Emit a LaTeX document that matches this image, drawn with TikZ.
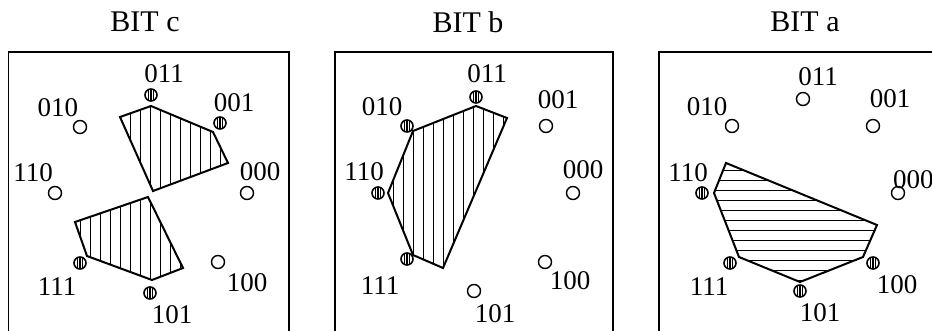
\documentclass[tikz,border=0pt]{standalone}
\usepackage{fontspec}
\setmainfont{Liberation Serif}
\usepackage{tikz}
\usetikzlibrary{positioning}

\begin{document}
\begin{tikzpicture}[
    x=1pt, y=-1pt,
    % Text
    title/.style={font=\fontsize{30}{33}\selectfont, inner sep=0pt},
    lbl/.style={font=\fontsize{27}{30}\selectfont, inner sep=0pt},
    % Frames and regions
    frame/.style={line width=1.6pt},
    region/.style={line width=2pt, line join=miter},
    hatch/.style={line width=0.8pt},
    % Points
    odot/.style={circle, draw, line width=1.4pt, minimum size=13pt, inner sep=0pt},
    hdot/.style={circle, draw, line width=1.6pt, minimum size=12pt, inner sep=0pt,
        path picture={\foreach \d in {-2.6,0,2.6}
            \draw[line width=1.1pt] ([xshift=\d pt]path picture bounding box.north) -- ([xshift=\d pt]path picture bounding box.south);}}
]
\useasboundingbox (0,0) rectangle (932,331);

% Titles
\node[title] (tc) at (145,22) {BIT c};
\node[title] (tb) at (468,22) {BIT b};
\node[title] (ta) at (805,22) {BIT a};

% Frames (open at the bottom)
\draw[frame] (8.5,340) -- (8.5,52) -- (289,52) -- (289,340);
\draw[frame] (335,340) -- (335,52) -- (613,52) -- (613,340);
\draw[frame] (659,340) -- (659,52) -- (945,52);

% ---------------- BIT c ----------------
\begin{scope}
\clip (120,117) -- (151,106) -- (213,132) -- (228,163) -- (153,191) -- cycle;
\foreach \x in {110,120,...,230} \draw[hatch] (\x,100) -- (\x,200);
\end{scope}
\draw[region] (120,117) -- (151,106) -- (213,132) -- (228,163) -- (153,191) -- cycle;
\begin{scope}
\clip (75,222) -- (148,197) -- (183,268) -- (152,280) -- (87,256) -- cycle;
\foreach \x in {70,80,...,190} \draw[hatch] (\x,190) -- (\x,290);
\end{scope}
\draw[region] (75,222) -- (148,197) -- (183,268) -- (152,280) -- (87,256) -- cycle;

\node[hdot] (c011) at (151,95) {};
\node[hdot] (c001) at (220,123) {};
\node[odot] (c010) at (80,127) {};
\node[odot] (c110) at (55,193) {};
\node[odot] (c000) at (247,193) {};
\node[hdot] (c111) at (80,263) {};
\node[odot] (c100) at (218,262) {};
\node[hdot] (c101) at (150,293) {};

\node[lbl] (c011l) at (164,74) {011};
\node[lbl] (c001l) at (234,103) {001};
\node[lbl] (c010l) at (58,108) {010};
\node[lbl] (c110l) at (33,173) {110};
\node[lbl] (c000l) at (260,172) {000};
\node[lbl] (c111l) at (57,287) {111};
\node[lbl] (c100l) at (247,283) {100};
\node[lbl] (c101l) at (172,315) {101};

% ---------------- BIT b ----------------
\begin{scope}
\clip (413,131) -- (476,106) -- (507,118) -- (443,268) -- (413,255) -- (388,193) -- cycle;
\foreach \x in {383,393,...,513} \draw[hatch] (\x,100) -- (\x,275);
\end{scope}
\draw[region] (413,131) -- (476,106) -- (507,118) -- (443,268) -- (413,255) -- (388,193) -- cycle;

\node[hdot] (b011) at (476,97) {};
\node[odot] (b001) at (546,126) {};
\node[hdot] (b010) at (407,126) {};
\node[hdot] (b110) at (378,193) {};
\node[odot] (b000) at (573,193) {};
\node[hdot] (b111) at (407,259) {};
\node[odot] (b100) at (545,262) {};
\node[odot] (b101) at (474,291) {};

\node[lbl] (b011l) at (487,74) {011};
\node[lbl] (b001l) at (558,100) {001};
\node[lbl] (b010l) at (382,107) {010};
\node[lbl] (b110l) at (364,172) {110};
\node[lbl] (b000l) at (583,170) {000};
\node[lbl] (b111l) at (380,286) {111};
\node[lbl] (b100l) at (570,281) {100};
\node[lbl] (b101l) at (495,314) {101};

% ---------------- BIT a ----------------
\begin{scope}
\clip (726,163) -- (877,225) -- (863,257) -- (800,282) -- (739,257) -- (714,193) -- cycle;
\foreach \y in {170,180,...,280} \draw[hatch] (705,\y) -- (885,\y);
\end{scope}
\draw[region] (726,163) -- (877,225) -- (863,257) -- (800,282) -- (739,257) -- (714,193) -- cycle;

\node[odot] (a011) at (803,99) {};
\node[odot] (a001) at (873,126) {};
\node[odot] (a010) at (732,126) {};
\node[hdot] (a110) at (702,193) {};
\node[odot] (a000) at (898,193) {};
\node[hdot] (a111) at (730,263) {};
\node[hdot] (a100) at (873,263) {};
\node[hdot] (a101) at (800,291) {};

\node[lbl] (a011l) at (818,77) {011};
\node[lbl] (a001l) at (890,99) {001};
\node[lbl] (a010l) at (707,107) {010};
\node[lbl] (a110l) at (688,173) {110};
\node[lbl, anchor=west] (a000l) at (893,180) {000};
\node[lbl] (a111l) at (709,287) {111};
\node[lbl] (a100l) at (897,285) {100};
\node[lbl] (a101l) at (820,313) {101};
\end{tikzpicture}
\end{document}
